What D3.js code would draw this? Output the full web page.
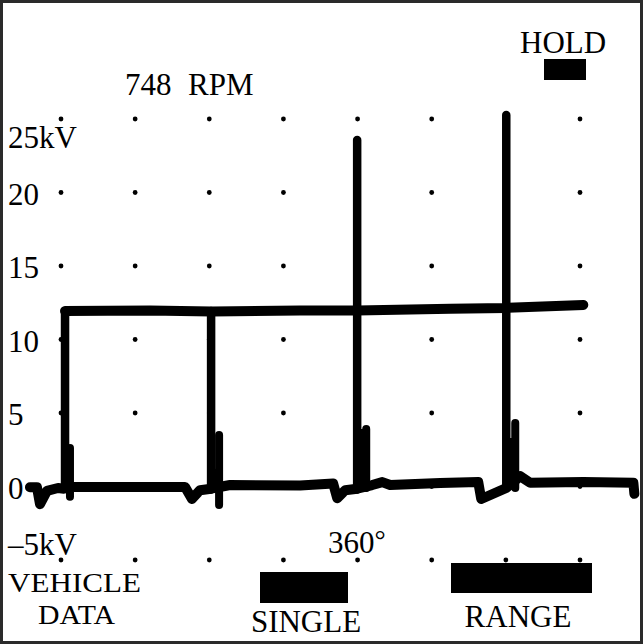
<!DOCTYPE html>
<html>
<head>
<meta charset="utf-8">
<script src="https://cdn.jsdelivr.net/npm/d3@7"></script>
<style>
  html, body { margin: 0; padding: 0; background: #fff; }
  svg { display: block; }
  text { font-family: "Liberation Serif", "Times New Roman", serif; fill: #000; }
</style>
</head>
<body>
<svg id="chart" width="643" height="644"></svg>
<script>
// ---- Data ----
// grid
const gridDegrees = [0, 90, 180, 270, 360, 450, 540, 630];
const gridKV = [-5, 0, 5, 10, 15, 20, 25];
const yTickValues = [25, 20, 15, 10, 5, 0, -5];
const yTickLabels = ["25kV", "20", "15", "10", "5", "0", "–5kV"];

// main trace (baseline with dips), degrees / kV
const traceDeg = [-37.7, -29.2, -25.5, -17, -3.6, 3.6, 14.6, 71.7, 150.6, 159, 168.8, 182.2, 195.6, 205.3, 290.3, 330.4, 335.3, 345, 359.5, 377.7, 390, 399.6, 460.3, 506.5, 510.1, 540.5, 557.5, 569.7, 634, 694.8, 696];
const traceKV  = [-0.05, -0.05, -1.2, -0.3, -0.1, -0.15, -0.03, -0.03, -0.03, -0.85, -0.25, -0.15, 0.0, 0.1, 0.07, 0.2, -0.8, -0.25, -0.15, 0.1, 0.3, 0.1, 0.24, 0.3, -0.85, -0.1, 0.7, 0.25, 0.3, 0.25, -0.5];

// horizontal level line near 12 kV
const levelDeg = [4.9, 108, 183, 290, 359.5, 472.5, 540.5, 634];
const levelKV  = [11.94, 11.98, 11.9, 11.98, 11.98, 12.1, 12.15, 12.35];

// firing lines (vertical)
const firingDeg    = [4.9, 182.2, 359.5, 540.5];
const firingTopKV  = [11.94, 11.94, 23.57, 25.27];
const firingBotKV  = [-0.1, -0.2, -0.2, -0.1];

// spark lines (short vertical next to each firing line)
const sparkDeg    = [10.9, 191.9, 370.5, 551.4];
const sparkTopKV  = [2.62, 3.5, 3.91, 4.32];
const sparkBotKV  = [-0.7, -1.26, -0.1, -0.1];
// solid burn block between firing and spark line
const burnTopKV   = [2.62, 1.2, 3.91, 3.3];

// ---- Layout ----
const svg = d3.select("#chart");
const W = 643, H = 644;

const x = d3.scaleLinear().domain([0, 630]).range([61, 580]);
const y = d3.scaleLinear().domain([-5, 25]).range([560, 119]);

// outer frame
svg.append("rect")
  .attr("x", 1.5).attr("y", 1.5)
  .attr("width", W - 3).attr("height", H - 3)
  .attr("fill", "#fff").attr("stroke", "#2a2a2a").attr("stroke-width", 3);

// grid dots
const dots = [];
gridKV.forEach(k => gridDegrees.forEach(d => dots.push({d, k})));
svg.append("g").selectAll("circle").data(dots).join("circle")
  .attr("cx", p => x(p.d)).attr("cy", p => y(p.k))
  .attr("r", 2.4).attr("fill", "#000");

// y tick labels
svg.append("g").selectAll("text").data(yTickValues).join("text")
  .attr("x", 8)
  .attr("y", (v, i) => {
    if (v === 25) return y(v) + 29;
    if (v === -5) return y(v) - 5;
    return y(v) + 12;
  })
  .attr("font-size", 31)
  .text((v, i) => yTickLabels[i]);

// trace style
const ink = "#000";
const line = d3.line().x(p => x(p[0])).y(p => y(p[1]));

const gTrace = svg.append("g");

// level line
gTrace.append("path")
  .attr("d", line(levelDeg.map((d, i) => [d, levelKV[i]])))
  .attr("fill", "none").attr("stroke", ink).attr("stroke-width", 10)
  .attr("stroke-linejoin", "round").attr("stroke-linecap", "round");

// baseline trace
gTrace.append("path")
  .attr("d", line(traceDeg.map((d, i) => [d, traceKV[i]])))
  .attr("fill", "none").attr("stroke", ink).attr("stroke-width", 10)
  .attr("stroke-linejoin", "round").attr("stroke-linecap", "round");

// burn blocks
gTrace.selectAll("rect.burn").data(firingDeg).join("rect")
  .attr("class", "burn")
  .attr("x", (d) => x(d))
  .attr("y", (d, i) => y(burnTopKV[i]))
  .attr("width", (d, i) => x(sparkDeg[i]) - x(d))
  .attr("height", (d, i) => y(-0.2) - y(burnTopKV[i]))
  .attr("fill", ink);

// firing lines
gTrace.selectAll("line.fire").data(firingDeg).join("line")
  .attr("class", "fire")
  .attr("x1", d => x(d)).attr("x2", d => x(d))
  .attr("y1", (d, i) => y(firingBotKV[i])).attr("y2", (d, i) => y(firingTopKV[i]))
  .attr("stroke", ink).attr("stroke-width", 8.5).attr("stroke-linecap", "round");

// spark lines
gTrace.selectAll("line.spark").data(sparkDeg).join("line")
  .attr("class", "spark")
  .attr("x1", d => x(d)).attr("x2", d => x(d))
  .attr("y1", (d, i) => y(sparkBotKV[i])).attr("y2", (d, i) => y(sparkTopKV[i]))
  .attr("stroke", ink).attr("stroke-width", 8).attr("stroke-linecap", "round");

// ---- Screen annotations ----
const fs = 31;
svg.append("text").attr("x", 520).attr("y", 53).attr("font-size", fs).text("HOLD");
svg.append("rect").attr("x", 544).attr("y", 59).attr("width", 42).attr("height", 21).attr("fill", "#000");

svg.append("text").attr("x", 125).attr("y", 95).attr("font-size", fs).text("748");
svg.append("text").attr("x", 188).attr("y", 95).attr("font-size", fs).text("RPM");

const t360 = svg.append("text").attr("x", 328).attr("y", 553).attr("font-size", fs);
t360.append("tspan").text("360");
t360.append("tspan").attr("dy", -4).attr("font-size", 28).text("°");

svg.append("text").attr("x", 8).attr("y", 592).attr("font-size", 28)
  .attr("textLength", 133).attr("lengthAdjust", "spacingAndGlyphs").text("VEHICLE");
svg.append("text").attr("x", 38).attr("y", 624).attr("font-size", 28)
  .attr("textLength", 77).attr("lengthAdjust", "spacingAndGlyphs").text("DATA");

svg.append("rect").attr("x", 260).attr("y", 572).attr("width", 88).attr("height", 31).attr("fill", "#000");
svg.append("text").attr("x", 306).attr("y", 632).attr("font-size", fs).attr("text-anchor", "middle").text("SINGLE");

svg.append("rect").attr("x", 451).attr("y", 563).attr("width", 141).attr("height", 30).attr("fill", "#000");
svg.append("text").attr("x", 518).attr("y", 627).attr("font-size", fs).attr("text-anchor", "middle").text("RANGE");
</script>
</body>
</html>
